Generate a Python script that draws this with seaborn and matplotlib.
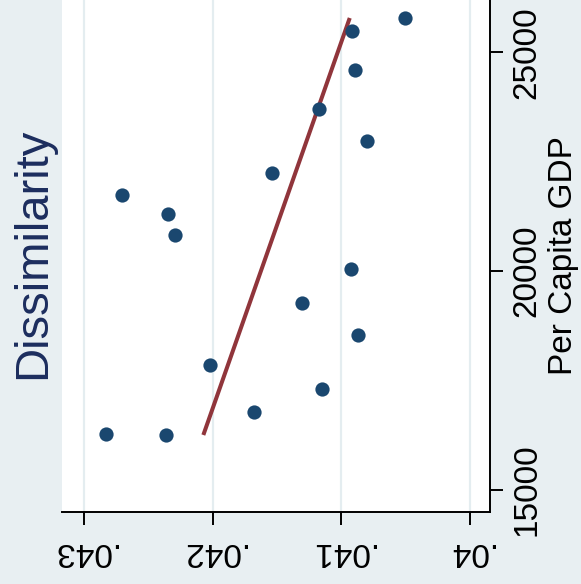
import numpy as np
import pandas as pd
import matplotlib
matplotlib.use("Agg")
import matplotlib.pyplot as plt
import seaborn as sns

# Observations: residential dissimilarity index vs. per capita GDP
dissimilarity = [0.040506, 0.040918, 0.040894, 0.041174, 0.040801, 0.041539,
                 0.042705, 0.042347, 0.042293, 0.040925, 0.041306, 0.040871,
                 0.042021, 0.041151, 0.041679, 0.042829, 0.042363]
gdp = [25789, 25491, 24600, 23709, 22977, 22246,
       21743, 21309, 20829, 20051, 19274, 18543,
       17857, 17309, 16783, 16280, 16257]

dissim_ticks = [0.043, 0.042, 0.041, 0.040]
dissim_labels = [".043", ".042", ".041", ".04"]
gdp_ticks = [15000, 20000, 25000]
gdp_labels = ["15000", "20000", "25000"]

df = pd.DataFrame({"Dissimilarity": dissimilarity, "GDP": gdp})

# Linear fit of dissimilarity on GDP, drawn across the GDP range
slope, intercept = np.polyfit(df["GDP"], df["Dissimilarity"], 1)
fit_gdp = np.array([df["GDP"].min(), df["GDP"].max()])
fit = pd.DataFrame({"GDP": fit_gdp, "Dissimilarity": intercept + slope * fit_gdp})

BG = "#e8eff2"
GRID = "#e4edf0"
NAVY = "#1a476f"
MAROON = "#90353b"
FONT = ["Liberation Sans", "DejaVu Sans"]

plt.rcParams["font.family"] = FONT

fig = plt.figure(figsize=(5.81, 5.84), dpi=100, facecolor=BG)
ax = fig.add_axes([62 / 581, 72 / 584, 428 / 581, 512 / 584])
ax.set_facecolor("white")

sns.scatterplot(data=df, x="Dissimilarity", y="GDP", ax=ax, color=NAVY,
                s=105, linewidth=0, zorder=3)
sns.lineplot(data=fit, x="Dissimilarity", y="GDP", ax=ax, color=MAROON,
             linewidth=2.9, sort=False, estimator=None, zorder=2,
             solid_capstyle="butt")

ax.set_xlim(0.043171, 0.039845)
ax.set_ylim(14497, 26200)

ax.set_xticks(dissim_ticks)
ax.set_xticklabels(dissim_labels)
ax.set_yticks(gdp_ticks)
ax.set_yticklabels(gdp_labels)

ax.yaxis.tick_right()
ax.yaxis.set_label_position("right")

for s in ["top", "left"]:
    ax.spines[s].set_visible(False)
for s in ["bottom", "right"]:
    ax.spines[s].set_linewidth(1.4)
    ax.spines[s].set_color("black")

ax.tick_params(axis="x", direction="out", length=9.5, width=1.4, pad=8,
               labelsize=24, labelrotation=180)
ax.tick_params(axis="y", direction="out", length=9.5, width=1.4, pad=6,
               labelsize=24, labelrotation=90)
for lbl in ax.get_yticklabels():
    lbl.set_verticalalignment("center")

ax.grid(axis="x", color=GRID, linewidth=1.6)
ax.grid(axis="y", visible=False)
ax.set_axisbelow(True)

ax.set_xlabel("")
ax.set_ylabel("Per Capita GDP", fontsize=24)
ax.yaxis.set_label_coords(1.136, 0.5)

fig.text(33 / 581, 1 - 253 / 584, "Dissimilarity", rotation=90,
         ha="center", va="center", fontsize=34, color="#1c2d5e")

fig.savefig("out.png", dpi=100, facecolor=BG)
